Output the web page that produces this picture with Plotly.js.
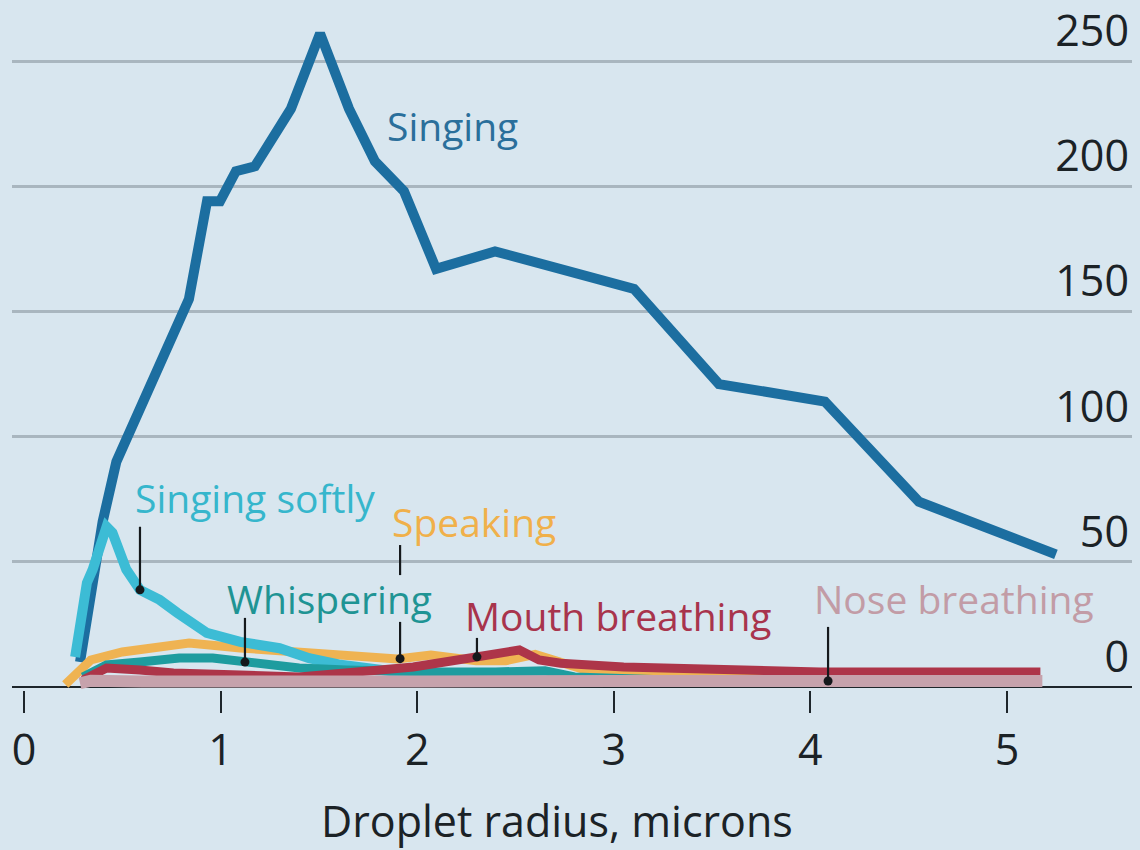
<!DOCTYPE html>
<html>
<head>
<meta charset="utf-8">
<script src="https://cdn.plot.ly/plotly-3.0.1.min.js"></script>
<style>
  html, body { margin: 0; padding: 0; background: #d8e6ef; }
  #chart { width: 1140px; height: 850px; }
</style>
</head>
<body>
<div id="chart"></div>
<script>
// ---- Data (droplet radius in microns vs. droplet count) ----
const singingX = [0.285, 0.34, 0.40, 0.47, 0.544, 0.656, 0.804, 0.839, 0.931, 0.997, 1.078, 1.175, 1.358, 1.506, 1.653, 1.785, 1.933, 2.096, 2.396, 3.103, 3.535, 4.074, 4.552, 5.249];
const singingY = [10, 38, 66, 90, 103, 123, 148, 155, 194, 194, 206, 208, 231, 261, 231, 210, 198, 167, 174, 159, 121, 114, 74, 53];

const softlyX = [0.26, 0.32, 0.35, 0.42, 0.45, 0.52, 0.59, 0.69, 0.78, 0.93, 1.10, 1.30, 1.45, 1.60, 1.80, 2.00, 2.50, 3.00];
const softlyY = [12, 41.6, 47, 64, 61.6, 47, 38.8, 34.8, 29.6, 21.6, 18, 15.5, 11.5, 9, 7, 5, 4, 3];

const speakingX = [0.21, 0.26, 0.34, 0.50, 0.73, 0.84, 1.10, 1.40, 1.65, 1.90, 2.07, 2.30, 2.45, 2.60, 2.85, 3.20, 3.60, 4.00, 4.50, 5.00, 5.17];
const speakingY = [1, 5, 10.8, 14, 16.8, 17.6, 15.6, 14, 13, 11.2, 12.8, 10.5, 10.5, 13, 7, 5, 4, 3.5, 3, 3, 3];

const whisperX = [0.30, 0.42, 0.59, 0.79, 0.96, 1.12, 1.27, 1.40, 1.64, 1.90, 2.10, 2.40, 2.65, 2.80, 3.20, 4.00, 5.00, 5.17];
const whisperY = [4, 8.8, 10, 11.6, 11.6, 10, 8, 7.6, 6.8, 6, 6, 6, 6.5, 4, 3, 2.5, 2.5, 2.5];

const mouthX = [0.30, 0.42, 0.59, 0.76, 1.10, 1.40, 1.81, 1.98, 2.30, 2.52, 2.62, 2.73, 3.05, 3.47, 4.05, 4.60, 5.17];
const mouthY = [2.8, 7.6, 6.8, 5.6, 4.8, 4, 6.8, 8, 12, 14.8, 10.8, 9.5, 8, 6.8, 6, 6, 6];

const noseX = [0.285, 0.34, 0.60, 1.00, 2.00, 3.00, 4.00, 5.18];
const noseY = [1.5, 2.5, 2.2, 2.0, 2.2, 2.4, 2.4, 2.4];

const xTicks = [0, 1, 2, 3, 4, 5];
const yTicks = [0, 50, 100, 150, 200, 250];
const seriesNames = ["Singing", "Singing softly", "Speaking", "Whispering", "Mouth breathing", "Nose breathing"];
const xTitle = "Droplet radius, microns";

// ---- Styling ----
const FONT = "'Open Sans', 'Noto Sans', sans-serif";
const BG = "#d8e6ef";
const INK = "#1e262b";
const colors = {
  singing: "#1c6ea0", softly: "#3cbcd5", speaking: "#efb352",
  whisper: "#1e9c9f", mouth: "#ad3549", nose: "#c6a2ac"
};
const labelColors = {
  singing: "#2a6f9b", softly: "#36b6cc", speaking: "#f0b04a",
  whisper: "#1f9494", mouth: "#a8344c", nose: "#c29ca6"
};

function line(x, y, color, width, name) {
  return { x, y, type: "scatter", mode: "lines", name,
    line: { color, width, shape: "linear" }, hoverinfo: "x+y+name" };
}

function interp(xs, ys, x) {
  for (let i = 0; i < xs.length - 1; i++) {
    if (x >= xs[i] && x <= xs[i + 1]) {
      const t = (x - xs[i]) / (xs[i + 1] - xs[i]);
      return ys[i] + t * (ys[i + 1] - ys[i]);
    }
  }
  return ys[ys.length - 1];
}

// pointer definitions: x position on the series, and the pointer line segments above it
const pointers = [
  { x: 0.59, xs: softlyX, ys: softlyY, segs: [[64, null]] },
  { x: 1.124, xs: whisperX, ys: whisperY, segs: [[27.6, null]] },
  { x: 1.913, xs: speakingX, ys: speakingY, segs: [[56.7, 44.7], [26, null]] },
  { x: 2.304, xs: mouthX, ys: mouthY, segs: [[19.6, null]] },
  { x: 4.09, xs: noseX, ys: noseY, segs: [[24, null]] }
];

const dotX = [], dotY = [], shapes = [];
pointers.forEach(p => {
  const yd = interp(p.xs, p.ys, p.x);
  dotX.push(p.x); dotY.push(yd);
  p.segs.forEach(s => {
    shapes.push({ type: "line", xref: "x", yref: "y", x0: p.x, x1: p.x,
      y0: s[0], y1: s[1] === null ? yd : s[1],
      line: { color: "#15191c", width: 2.2 }, layer: "above" });
  });
});

const traces = [
  line(singingX, singingY, colors.singing, 10, seriesNames[0]),
  line(speakingX, speakingY, colors.speaking, 9, seriesNames[2]),
  line(softlyX, softlyY, colors.softly, 10, seriesNames[1]),
  line(whisperX, whisperY, colors.whisper, 9, seriesNames[3]),
  line(mouthX, mouthY, colors.mouth, 9, seriesNames[4]),
  line(noseX, noseY, colors.nose, 12, seriesNames[5]),
  { x: dotX, y: dotY, type: "scatter", mode: "markers",
    marker: { color: "#15191c", size: 9 }, hoverinfo: "skip", showlegend: false }
];

function lab(text, x, y, color) {
  return { text, x, y, xref: "x", yref: "y", xanchor: "left", yanchor: "middle",
    showarrow: false, font: { family: FONT, size: 39, color } };
}

const annotations = [
  lab(seriesNames[0], 1.836, 224.4, labelColors.singing),
  lab(seriesNames[1], 0.554, 75.5, labelColors.softly),
  lab(seriesNames[2], 1.862, 66, labelColors.speaking),
  lab(seriesNames[3], 1.022, 35.5, labelColors.whisper),
  lab(seriesNames[4], 2.233, 28.5, labelColors.mouth),
  lab(seriesNames[5], 4.008, 35.5, labelColors.nose),
  { text: xTitle, x: 2.711, y: -0.189, xref: "x", yref: "paper",
    xanchor: "center", yanchor: "middle", showarrow: false,
    font: { family: FONT, size: 43, color: "#1b2226" } }
];

const layout = {
  width: 1140, height: 850,
  paper_bgcolor: BG, plot_bgcolor: BG,
  margin: { l: 12, r: 8, t: 0, b: 160 },
  showlegend: false,
  font: { family: FONT, color: "#1b2226" },
  xaxis: {
    range: [-0.061, 5.636], tickvals: xTicks, ticktext: xTicks.map(String),
    ticks: "outside", ticklen: 22, tickwidth: 2, tickcolor: INK,
    showgrid: false, zeroline: false, showline: false,
    tickfont: { family: FONT, size: 43, color: "#1b2226" },
    fixedrange: true
  },
  yaxis: {
    range: [-1.2, 274.4], tickvals: yTicks, ticktext: yTicks.map(String),
    side: "right", ticklabelposition: "inside top",
    ticks: "", showgrid: true, gridcolor: "#a9b6bf", gridwidth: 3,
    zeroline: true, zerolinecolor: INK, zerolinewidth: 2.5,
    showline: false,
    tickfont: { family: FONT, size: 43, color: "#1b2226" },
    fixedrange: true
  },
  shapes, annotations
};

Plotly.newPlot("chart", traces, layout, { displayModeBar: false, staticPlot: true });
</script>
</body>
</html>
